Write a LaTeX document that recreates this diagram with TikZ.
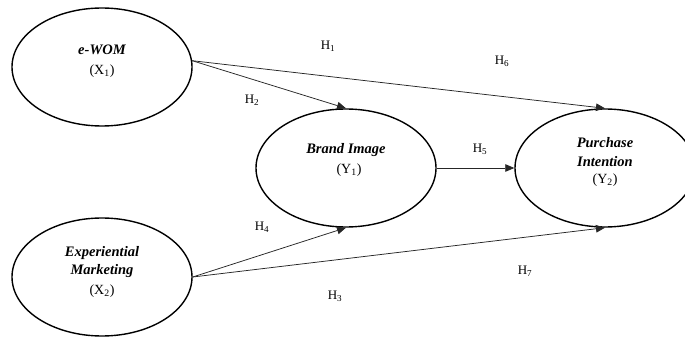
\documentclass[tikz,border=0pt]{standalone}
\usepackage{fontspec}
\setmainfont{Liberation Serif}
\usetikzlibrary{shapes.geometric,arrows.meta}
\begin{document}
\begin{tikzpicture}[x=1pt,y=-1pt,
 latent/.style={ellipse,draw,line width=1.4pt,minimum width=180pt,minimum height=118pt,inner sep=0pt},
 conn/.style={draw=black!85,line width=0.75pt,-{Triangle[length=9pt,width=7.5pt]}},
 hlab/.style={font=\fontsize{13}{15}\selectfont,inner sep=0pt},
 vtitle/.style={font=\fontsize{14.5}{18.5}\selectfont\bfseries\itshape,align=center,inner sep=0pt},
 vcode/.style={font=\fontsize{14}{16}\selectfont,inner sep=0pt}]
\useasboundingbox (0,0) rectangle (685,339);
\clip (0,0) rectangle (685,339);
\fill[white] (0,0) rectangle (685,339);
% latent variables
\node[latent] (ewom) at (102,67) {};
\node[latent] (expm) at (102,277) {};
\node[latent] (brand) at (346,168) {};
\node[latent] (purch) at (605,168) {};
% texts
\node[vtitle] (ewomt) at (102,50) {e-WOM};
\node[vcode] (ewomc) at (102,71) {(X\textsubscript{1})};
\node[vtitle] (expmt) at (102,262) {Experiential\\Marketing};
\node[vcode] (expmc) at (102,291) {(X\textsubscript{2})};
\node[vtitle] (brandt) at (346,150) {Brand Image};
\node[vcode] (brandc) at (349,170) {(Y\textsubscript{1})};
\node[vtitle] (purcht) at (605,152) {Purchase\\Intention};
\node[vcode] (purchc) at (605,180) {(Y\textsubscript{2})};
% connectors
\draw[conn] (ewom.4) -- (brand.north);
\draw[conn] (ewom.4) -- (purch.north);
\draw[conn] (brand.east) -- (purch.west);
\draw[conn] (expm.east) -- (brand.south);
\draw[conn] (expm.east) -- (purch.south);
% hypothesis labels
\node[hlab] (h1) at (328,46) {H\textsubscript{1}};
\node[hlab] (h2) at (252,100) {H\textsubscript{2}};
\node[hlab] (h6) at (502,61) {H\textsubscript{6}};
\node[hlab] (h5) at (480,149) {H\textsubscript{5}};
\node[hlab] (h4) at (262,227) {H\textsubscript{4}};
\node[hlab] (h3) at (335,296) {H\textsubscript{3}};
\node[hlab] (h7) at (525,271) {H\textsubscript{7}};
\end{tikzpicture}
\end{document}
